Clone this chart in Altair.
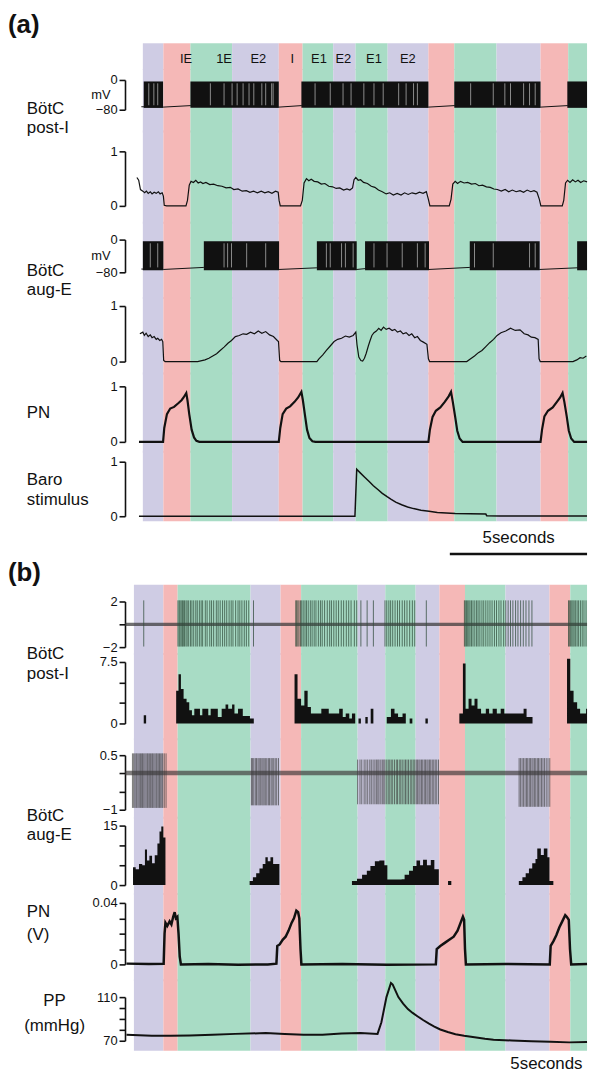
import altair as alt
import pandas as pd

FONT = "Liberation Sans"
INK = "#111111"
PHASE_ORDER = ["I", "E1", "E2"]
PHASE_COLORS = ["#f5b8b7", "#a8dcc5", "#cfcce4"]

# ======================= panel (a) : model =======================
A_TIME = [-0.6, 14.933]          # seconds shown
A_EDGES = [0.0, 0.69, 1.6, 3.0, 4.57, 5.37, 6.4, 7.15, 8.23, 9.6, 10.47, 11.89, 13.37, 14.3, 14.933]
A_PHASES = ["E2", "I", "E1", "E2", "I", "E1", "E2", "E1", "E2", "I", "E1", "E2", "I", "E1"]
A_PHASE_TEXT = ["IE", "1E", "E2", "I", "E1", "E2", "E1", "E2"]
A_PHASE_TEXT_T = [1.45, 2.73, 3.88, 5.02, 5.92, 6.74, 7.77, 8.91]

A_SPIKE_MV = (-75, -4)           # envelope of the spike bursts (mV)
A_PAUSE_MV = (-68, -9)

A_POSTI_BURSTS = [(0.03, 0.68), (1.6, 4.57), (5.33, 9.6), (10.47, 13.37), (14.27, 14.933)]
A_POSTI_PAUSES = [0.2, 0.37, 0.5, 2.27, 2.73, 3.0, 3.17, 3.37, 3.57, 3.73, 4.0, 4.13, 4.33, 4.38,
                  5.79, 6.3, 6.73, 7.0, 7.43, 7.77, 8.08, 8.6, 8.85, 9.1, 9.23,
                  11.02, 11.78, 12.17, 12.36, 12.8, 13.0, 13.19]
A_POSTI_REST = [(-0.05, -72), (0.68, -73), (1.6, -69), (4.57, -73), (5.33, -69), (9.6, -73),
                (10.47, -69), (13.37, -73), (14.27, -69), (14.933, -72)]

A_POSTI_NORM = [(-0.2, 0.52), (-0.14, 0.47), (-0.08, 0.3), (0.0, 0.27), (0.06, 0.24), (0.12, 0.27),
                (0.18, 0.23), (0.25, 0.26), (0.31, 0.22), (0.38, 0.25), (0.45, 0.23), (0.52, 0.26),
                (0.58, 0.22), (0.65, 0.24), (0.69, 0.18), (0.72, 0.01), (0.8, 0.0), (1.45, 0.0),
                (1.5, 0.1), (1.56, 0.38), (1.62, 0.45), (1.7, 0.43), (1.78, 0.47), (1.86, 0.42),
                (1.94, 0.44), (2.02, 0.41), (2.12, 0.43), (2.25, 0.39), (2.38, 0.4), (2.52, 0.37),
                (2.66, 0.36), (2.8, 0.33), (2.94, 0.34), (3.06, 0.3), (3.2, 0.31), (3.34, 0.27),
                (3.48, 0.28), (3.6, 0.25), (3.72, 0.27), (3.85, 0.24), (3.98, 0.27), (4.1, 0.24),
                (4.22, 0.26), (4.34, 0.23), (4.46, 0.27), (4.55, 0.25), (4.58, 0.1), (4.62, 0.0),
                (5.3, 0.0), (5.36, 0.1), (5.42, 0.42), (5.5, 0.5), (5.58, 0.46), (5.66, 0.49),
                (5.76, 0.45), (5.88, 0.44), (6.0, 0.4), (6.12, 0.41), (6.25, 0.36), (6.38, 0.35),
                (6.5, 0.32), (6.62, 0.33), (6.75, 0.29), (6.86, 0.31), (6.96, 0.29), (7.05, 0.33),
                (7.1, 0.48), (7.16, 0.52), (7.24, 0.47), (7.32, 0.48), (7.42, 0.43), (7.55, 0.41),
                (7.68, 0.36), (7.8, 0.34), (7.92, 0.29), (8.05, 0.26), (8.18, 0.22), (8.3, 0.24),
                (8.42, 0.2), (8.55, 0.23), (8.68, 0.2), (8.8, 0.24), (8.92, 0.21), (9.05, 0.24),
                (9.18, 0.22), (9.3, 0.25), (9.42, 0.23), (9.53, 0.26), (9.6, 0.12), (9.65, 0.0),
                (10.3, 0.0), (10.36, 0.12), (10.42, 0.4), (10.5, 0.45), (10.58, 0.41), (10.68, 0.45),
                (10.8, 0.42), (10.92, 0.43), (11.05, 0.4), (11.18, 0.41), (11.3, 0.37), (11.42, 0.38),
                (11.55, 0.35), (11.68, 0.34), (11.8, 0.31), (11.92, 0.3), (12.05, 0.27), (12.18, 0.3),
                (12.3, 0.26), (12.42, 0.29), (12.55, 0.26), (12.68, 0.28), (12.8, 0.25), (12.92, 0.29),
                (13.04, 0.26), (13.15, 0.28), (13.25, 0.25), (13.33, 0.12), (13.38, 0.0), (14.1, 0.0),
                (14.15, 0.1), (14.21, 0.42), (14.28, 0.47), (14.36, 0.43), (14.45, 0.48), (14.54, 0.44),
                (14.63, 0.47), (14.72, 0.43), (14.82, 0.46), (14.933, 0.44)]

A_AUGE_BURSTS = [(0.0, 0.69), (2.05, 4.58), (5.85, 7.19), (7.47, 9.62), (10.99, 13.34), (14.6, 14.933)]
A_AUGE_PAUSES = [0.25, 0.5, 2.73, 2.85, 2.98, 3.49, 4.13, 6.17, 6.3, 6.68, 6.81, 7.07,
                 7.77, 8.21, 8.72, 9.23, 9.49, 11.15, 11.78, 13.0, 13.19]
A_AUGE_REST = [(-0.05, -72), (0.69, -73), (2.05, -68), (4.58, -73), (5.85, -69), (7.19, -73),
               (7.47, -71), (9.62, -73), (10.99, -68), (13.34, -73), (14.6, -69), (14.933, -72)]

A_AUGE_NORM = [(-0.1, 0.5), (0.0, 0.53), (0.05, 0.47), (0.11, 0.51), (0.18, 0.45), (0.25, 0.48),
               (0.31, 0.43), (0.38, 0.45), (0.45, 0.4), (0.5, 0.42), (0.57, 0.38), (0.63, 0.4),
               (0.67, 0.36), (0.7, 0.02), (0.75, 0.0), (1.84, 0.0), (2.09, 0.03), (2.22, 0.06),
               (2.35, 0.1), (2.48, 0.14), (2.6, 0.2), (2.73, 0.26), (2.86, 0.33), (2.98, 0.38),
               (3.11, 0.45), (3.24, 0.47), (3.37, 0.5), (3.49, 0.49), (3.62, 0.53), (3.75, 0.5),
               (3.88, 0.55), (4.0, 0.51), (4.13, 0.54), (4.26, 0.48), (4.39, 0.45), (4.52, 0.38),
               (4.56, 0.36), (4.6, 0.02), (4.64, 0.0), (5.85, 0.0), (5.92, 0.05), (6.05, 0.12),
               (6.17, 0.2), (6.3, 0.28), (6.43, 0.36), (6.55, 0.4), (6.68, 0.42), (6.81, 0.46),
               (6.94, 0.44), (7.07, 0.47), (7.16, 0.53), (7.2, 0.3), (7.26, 0.08), (7.33, 0.02),
               (7.39, 0.01), (7.45, 0.06), (7.51, 0.15), (7.58, 0.28), (7.64, 0.38), (7.7, 0.47),
               (7.77, 0.52), (7.85, 0.55), (7.93, 0.6), (8.01, 0.56), (8.09, 0.62), (8.18, 0.58),
               (8.28, 0.6), (8.38, 0.56), (8.47, 0.58), (8.56, 0.53), (8.66, 0.55), (8.75, 0.5),
               (8.85, 0.52), (8.95, 0.47), (9.04, 0.5), (9.14, 0.43), (9.23, 0.45), (9.33, 0.38),
               (9.43, 0.35), (9.55, 0.31), (9.6, 0.05), (9.64, 0.0), (10.89, 0.0), (11.02, 0.05),
               (11.15, 0.1), (11.28, 0.16), (11.4, 0.2), (11.53, 0.27), (11.66, 0.34), (11.79, 0.4),
               (11.91, 0.47), (12.04, 0.52), (12.2, 0.55), (12.36, 0.6), (12.52, 0.56), (12.68, 0.57),
               (12.82, 0.5), (12.95, 0.48), (13.06, 0.44), (13.18, 0.43), (13.29, 0.4), (13.32, 0.05),
               (13.36, 0.0), (14.46, 0.0), (14.59, 0.03), (14.7, 0.07), (14.8, 0.06), (14.91, 0.1)]

A_PN = [(-0.13, 0.0), (0.68, 0.0), (0.72, 0.25), (0.81, 0.5), (0.92, 0.6), (1.05, 0.63), (1.2, 0.7),
        (1.3, 0.75), (1.37, 0.8), (1.46, 0.88), (1.5, 0.75), (1.56, 0.5), (1.64, 0.22), (1.72, 0.08),
        (1.8, 0.02), (1.9, 0.0), (4.57, 0.0), (4.62, 0.25), (4.7, 0.5), (4.82, 0.6), (4.95, 0.64),
        (5.1, 0.72), (5.22, 0.8), (5.33, 0.9), (5.38, 0.75), (5.45, 0.48), (5.52, 0.22), (5.6, 0.07),
        (5.7, 0.01), (5.8, 0.0), (9.6, 0.0), (9.65, 0.22), (9.74, 0.45), (9.85, 0.56), (10.0, 0.62),
        (10.15, 0.72), (10.28, 0.82), (10.36, 0.9), (10.42, 0.72), (10.5, 0.45), (10.57, 0.2),
        (10.65, 0.06), (10.75, 0.0), (13.37, 0.0), (13.42, 0.22), (13.5, 0.46), (13.62, 0.56),
        (13.78, 0.62), (13.92, 0.72), (14.03, 0.8), (14.11, 0.88), (14.17, 0.72), (14.25, 0.46),
        (14.32, 0.2), (14.4, 0.06), (14.5, 0.0), (14.933, 0.0)]

A_BARO = [(-0.13, 0.0), (7.13, 0.0), (7.19, 0.86), (7.3, 0.8), (7.45, 0.72), (7.6, 0.64), (7.75, 0.56),
          (7.9, 0.49), (8.05, 0.42), (8.21, 0.36), (8.35, 0.31), (8.5, 0.26), (8.7, 0.21), (8.9, 0.17),
          (9.1, 0.14), (9.35, 0.11), (9.62, 0.09), (9.9, 0.07), (10.2, 0.06), (10.5, 0.05),
          (11.0, 0.045), (11.53, 0.04), (11.56, 0.01), (12.0, 0.005), (13.0, 0.005), (14.933, 0.005)]

A_SCALEBAR = [(10.32, 15.32)]

# ======================= panel (b) : recording =======================
B_TIME = [-0.3, 15.233]
B_EDGES = [0.0, 0.99, 1.47, 3.92, 4.93, 5.62, 7.52, 8.45, 9.47, 10.27, 11.13, 12.49, 13.97, 14.67, 15.233]
B_PHASES = ["E2", "I", "E1", "E2", "I", "E1", "E2", "E1", "E2", "I", "E1", "E2", "I", "E1"]

B_POSTI_NOISE = (-0.14, 0.14)
B_POSTI_SPIKE_V = (-1.95, 2.1)
B_POSTI_SPIKES = [0.33,
                  1.48, 1.52, 1.55, 1.59, 1.63, 1.66, 1.7, 1.75, 1.79, 1.84, 1.9, 1.95, 2.01, 2.08,
                  2.13, 2.2, 2.26, 2.31, 2.4, 2.46, 2.55, 2.61, 2.68, 2.77, 2.83, 2.9, 2.98, 3.05,
                  3.12, 3.2, 3.27, 3.33, 3.42, 3.5, 3.56, 3.63, 3.71, 3.78, 3.86,
                  4.02,
                  5.44, 5.47, 5.51, 5.55, 5.6, 5.64, 5.69, 5.75, 5.8, 5.86, 5.93, 5.99, 6.06, 6.12,
                  6.2, 6.27, 6.33, 6.41, 6.5, 6.58, 6.64, 6.72, 6.8, 6.88, 6.97, 7.05, 7.14, 7.22,
                  7.3, 7.41, 7.49, 7.63, 7.84, 8.05,
                  8.44, 8.5, 8.57, 8.63, 8.7, 8.78, 8.86, 8.93, 9.02, 9.1, 9.18, 9.27, 9.36, 9.44,
                  9.83,
                  11.11, 11.14, 11.18, 11.22, 11.26, 11.3, 11.35, 11.4, 11.46, 11.52, 11.57, 11.63,
                  11.7, 11.76, 11.83, 11.9, 11.97, 12.04, 12.12, 12.19, 12.27, 12.34, 12.43, 12.5,
                  12.58, 12.66, 12.74, 12.83, 12.91, 13.0, 13.09, 13.18, 13.28, 13.38,
                  14.61, 14.64, 14.68, 14.72, 14.76, 14.8, 14.85, 14.9, 14.95, 15.01, 15.07, 15.13, 15.2]

B_POSTI_HIST = [(0.33, 1.0), (0.41, 0.0),
                (1.42, 4.0), (1.5, 6.0), (1.58, 4.2), (1.67, 3.0), (1.77, 2.6), (1.86, 1.6), (1.95, 1.0),
                (2.03, 1.8), (2.22, 1.0), (2.3, 1.8), (2.5, 1.0), (2.58, 1.8), (2.82, 0.8), (2.95, 1.8),
                (3.08, 2.3), (3.17, 1.8), (3.3, 2.3), (3.38, 1.2), (3.5, 1.8), (3.66, 0.9), (3.9, 0.6),
                (4.03, 0.0),
                (5.4, 6.0), (5.5, 3.0), (5.62, 2.2), (5.73, 4.0), (5.84, 2.0), (5.95, 1.2), (6.3, 1.8),
                (6.55, 1.2), (6.9, 1.8), (7.02, 0.8), (7.12, 1.2), (7.24, 0.6), (7.33, 1.2), (7.44, 0.0),
                (7.55, 0.6), (7.63, 0.0), (7.78, 0.8), (7.86, 0.0), (7.96, 1.8), (8.05, 0.0),
                (8.5, 0.8), (8.64, 1.8), (8.76, 1.2), (8.88, 0.8), (9.03, 1.2), (9.14, 0.0),
                (9.27, 0.6), (9.36, 0.0), (9.8, 0.6), (9.88, 0.0),
                (10.94, 1.2), (11.06, 7.3), (11.15, 1.8), (11.25, 3.0), (11.35, 2.2), (11.45, 3.0),
                (11.55, 1.8), (11.67, 1.2), (11.83, 1.8), (11.94, 1.2), (12.06, 1.8), (12.2, 1.2),
                (12.33, 1.8), (12.45, 1.2), (13.1, 1.8), (13.2, 0.8), (13.4, 0.0),
                (14.56, 7.9), (14.67, 4.0), (14.78, 2.6), (14.9, 1.8), (15.0, 1.2), (15.2, 1.8),
                (15.233, 1.8)]

B_AUGE_NOISE = (-0.05, 0.07)
B_AUGE_SPIKE_TOP = [0.55, 0.42, 0.38, 0.42]
B_AUGE_SPIKE_BOTTOM = [-0.95, -0.88, -0.85, -0.92]
B_AUGE_BURSTS = [
    [-0.05, -0.01, 0.03, 0.07, 0.1, 0.14, 0.18, 0.22, 0.26, 0.29, 0.33, 0.37, 0.41, 0.45, 0.48,
     0.52, 0.56, 0.6, 0.63, 0.67, 0.71, 0.75, 0.78, 0.82, 0.86, 0.9, 0.94, 0.97, 1.02, 1.08],
    [3.95, 3.99, 4.03, 4.08, 4.12, 4.17, 4.21, 4.25, 4.3, 4.34, 4.38, 4.43, 4.47, 4.52, 4.56,
     4.61, 4.65, 4.7, 4.75, 4.8, 4.86],
    [7.52, 7.6, 7.66, 7.74, 7.8, 7.86, 7.93, 7.98, 8.04, 8.1, 8.15, 8.2, 8.24, 8.3, 8.35, 8.4,
     8.44, 8.5, 8.55, 8.6, 8.65, 8.7, 8.76, 8.82, 8.86, 8.92, 8.97, 9.02, 9.08, 9.13, 9.18, 9.23,
     9.29, 9.34, 9.39, 9.44, 9.49, 9.53, 9.58, 9.62, 9.67, 9.71, 9.76, 9.8, 9.85, 9.89, 9.94,
     9.98, 10.03, 10.08, 10.13, 10.18, 10.24],
    [12.95, 13.0, 13.05, 13.1, 13.15, 13.2, 13.24, 13.29, 13.33, 13.38, 13.42, 13.47, 13.51,
     13.56, 13.6, 13.65, 13.7, 13.75, 13.8, 13.86, 13.92, 13.98],
]

B_AUGE_HIST = [(-0.03, 4.5), (0.06, 4.0), (0.17, 5.3), (0.28, 5.0), (0.37, 9.0), (0.44, 6.2),
               (0.52, 7.4), (0.61, 5.5), (0.7, 7.5), (0.79, 10.5), (0.86, 13.5), (0.92, 14.8),
               (0.99, 12.0), (1.06, 0.0),
               (3.89, 1.0), (4.0, 2.0), (4.11, 3.0), (4.22, 4.2), (4.33, 5.3), (4.42, 7.0), (4.5, 6.0),
               (4.59, 7.0), (4.68, 5.3), (4.89, 0.0),
               (7.33, 1.0), (7.5, 1.6), (7.67, 2.6), (7.83, 3.6), (7.95, 4.8), (8.1, 6.0), (8.25, 6.2),
               (8.42, 5.0), (8.52, 1.4), (9.0, 1.5), (9.1, 2.6), (9.25, 3.6), (9.38, 4.8), (9.5, 6.2),
               (9.62, 5.0), (9.72, 6.4), (9.85, 5.0), (9.98, 6.3), (10.1, 4.0), (10.25, 0.0),
               (10.56, 1.0), (10.67, 0.0),
               (12.94, 1.0), (13.06, 2.0), (13.17, 3.0), (13.28, 4.2), (13.39, 5.5), (13.5, 6.6),
               (13.56, 9.2), (13.68, 7.6), (13.78, 9.2), (13.9, 7.0), (13.97, 1.0), (14.1, 0.0)]

B_PN = [(-0.25, 0.0005), (0.5, 0.0002), (1.0, 0.0004), (1.03, 0.02), (1.06, 0.027), (1.12, 0.025),
        (1.2, 0.028), (1.26, 0.026), (1.32, 0.031), (1.37, 0.034), (1.41, 0.03), (1.46, 0.031),
        (1.5, 0.02), (1.54, 0.005), (1.58, 0.0), (2.5, 0.0003), (3.5, -0.0002), (4.5, 0.0),
        (4.79, 0.0005), (4.82, 0.012), (4.9, 0.013), (5.0, 0.016), (5.1, 0.018), (5.2, 0.022),
        (5.3, 0.027), (5.38, 0.03), (5.46, 0.035), (5.52, 0.034), (5.56, 0.03), (5.6, 0.01),
        (5.63, 0.0), (7.0, 0.0002), (8.5, -0.0003), (10.15, 0.0), (10.18, 0.01), (10.3, 0.012),
        (10.45, 0.014), (10.6, 0.016), (10.75, 0.018), (10.88, 0.022), (10.98, 0.027),
        (11.06, 0.031), (11.1, 0.029), (11.13, 0.01), (11.16, 0.0), (12.5, 0.0003), (13.98, 0.0),
        (14.01, 0.012), (14.1, 0.015), (14.2, 0.019), (14.3, 0.024), (14.4, 0.028), (14.5, 0.032),
        (14.55, 0.031), (14.62, 0.029), (14.66, 0.01), (14.7, 0.0), (15.233, 0.0002)]

B_PP = [(-0.25, 75.5), (0.6, 74.5), (1.24, 74.5), (1.88, 74.8), (2.64, 75.6), (3.41, 76.3),
        (4.43, 77.0), (5.07, 76.2), (5.7, 75.4), (6.34, 75.6), (6.98, 76.6), (7.62, 77.0),
        (8.19, 76.3), (8.32, 87.0), (8.49, 110.0), (8.64, 123.0), (8.7, 121.5), (8.89, 110.0),
        (9.05, 104.0), (9.21, 99.0), (9.37, 95.5), (9.53, 92.5), (9.72, 89.0), (9.92, 85.7),
        (10.1, 83.0), (10.3, 80.3), (10.55, 78.0), (10.81, 76.0), (11.1, 74.6), (11.45, 73.2),
        (11.8, 71.8), (12.09, 71.0), (12.7, 70.2), (13.36, 69.6), (14.0, 69.0), (14.63, 68.5),
        (15.233, 68.8)]

# ======================= helpers =======================
W = 466


def xq(field, dom):
    return alt.X(f"{field}:Q", scale=alt.Scale(domain=dom, nice=False, zero=False), axis=None)


def yq(field, dom, rng, ax):
    return alt.Y(f"{field}:Q", scale=alt.Scale(domain=dom, range=rng, nice=False, zero=False), axis=ax)


def make_axis(ticks, shown, title=None, title_y=0):
    expr = "''"
    for v, s in shown:
        expr = f"datum.value == {v} ? '{s}' : ({expr})"
    kw = dict(values=ticks, labelExpr=expr, grid=False, domainColor=INK, domainWidth=1.6,
              tickColor=INK, tickWidth=1.6, tickSize=6, labelFont=FONT, labelFontSize=13,
              labelColor=INK, labelPadding=2, labelOverlap=False)
    if title:
        kw.update(title=title, titleAngle=0, titleAlign="right", titleBaseline="middle",
                  titleX=-15, titleY=title_y, titleFont=FONT, titleFontSize=13,
                  titleFontWeight="normal", titleColor=INK)
    else:
        kw["title"] = None
    return alt.Axis(**kw)


def bands(edges, phases, dom, h):
    df = pd.DataFrame({"t0": edges[:-1], "t1": edges[1:], "phase": phases})
    # the band rectangles overlap the neighbouring rows by one pixel to avoid seams
    return alt.Chart(df).mark_rect().encode(
        x=xq("t0", dom), x2="t1:Q", y=alt.value(-1), y2=alt.value(h + 1),
        color=alt.Color("phase:N", scale=alt.Scale(domain=PHASE_ORDER, range=PHASE_COLORS),
                        legend=None))


def label(text, x, y, size=17, align="left", weight="normal"):
    return alt.Chart(pd.DataFrame({"s": [text]})).mark_text(
        align=align, baseline="middle", font=FONT, fontSize=size, fontWeight=weight, color=INK
    ).encode(text="s:N", x=alt.value(x), y=alt.value(y))


def line(data, dom_t, dom_v, rng, ax, width=1.2):
    df = pd.DataFrame(data, columns=["t", "v"])
    return alt.Chart(df).mark_line(color=INK, strokeWidth=width).encode(
        x=xq("t", dom_t), y=yq("v", dom_v, rng, ax))


def steps(data, dom_t, dom_v, rng, ax):
    df = pd.DataFrame(data, columns=["t", "v"])
    return alt.Chart(df).mark_area(interpolate="step-after", color=INK).encode(
        x=xq("t", dom_t), y=yq("v", dom_v, rng, ax), y2=alt.datum(0))


def burst_rects(bursts, env, dom_t, dom_v, rng, ax):
    df = pd.DataFrame(bursts, columns=["t0", "t1"])
    df["lo"], df["hi"] = env
    return alt.Chart(df).mark_rect(color=INK).encode(
        x=xq("t0", dom_t), x2="t1:Q", y=yq("lo", dom_v, rng, ax), y2="hi:Q")


def spikes(times, lo, hi, dom_t, dom_v, rng, ax, color, width=1.0, opacity=0.8):
    df = pd.DataFrame({"t": times, "lo": lo, "hi": hi})
    return alt.Chart(df).mark_rule(color=color, strokeWidth=width, opacity=opacity).encode(
        x=xq("t", dom_t), y=yq("lo", dom_v, rng, ax), y2="hi:Q")


def noise_band(env, dom_t, dom_v, rng, ax, color, opacity):
    df = pd.DataFrame({"t0": [dom_t[0]], "t1": [dom_t[1]], "lo": [env[0]], "hi": [env[1]]})
    return alt.Chart(df).mark_rect(color=color, opacity=opacity).encode(
        x=xq("t0", dom_t), x2="t1:Q", y=yq("lo", dom_v, rng, ax), y2="hi:Q")


def row(layers, h):
    return alt.layer(*layers).properties(width=W, height=h)


LX = -99
rows = []

# ---------- (a) ----------
rows.append(row([label("(a)", -118, 13, size=26, weight="bold")], 32))

h = 26
ph = pd.DataFrame({"t": A_PHASE_TEXT_T, "s": A_PHASE_TEXT})
rows.append(row([
    bands(A_EDGES, A_PHASES, A_TIME, h - 1),
    alt.Chart(ph).mark_text(font=FONT, fontSize=13, color=INK, baseline="middle").encode(
        x=xq("t", A_TIME), y=alt.value(15), text="s:N"),
], h))

# BötC post-I membrane potential
h = 62
dv, rg = [-80, 0], [40, 10]
ax = make_axis([-80, 0], [(0, "0"), (-80, "\u221280")], "mV", 25)
rows.append(row([
    bands(A_EDGES, A_PHASES, A_TIME, h),
    line(A_POSTI_REST, A_TIME, dv, rg, ax, 1.0),
    burst_rects(A_POSTI_BURSTS, A_SPIKE_MV, A_TIME, dv, rg, ax),
    spikes(A_POSTI_PAUSES, A_PAUSE_MV[0], A_PAUSE_MV[1], A_TIME, dv, rg, ax, "#a9a9a9", 0.9, 0.9),
    label("BötC", LX, 39), label("post-I", LX, 58),
], h))

# BötC post-I normalised
h = 92
dv, rg = [0, 1], [75, 20]
ax = make_axis([0, 1], [(0, "0"), (1, "1")])
rows.append(row([bands(A_EDGES, A_PHASES, A_TIME, h),
                 line(A_POSTI_NORM, A_TIME, dv, rg, ax, 1.2)], h))

# BötC aug-E membrane potential
h = 76
dv, rg = [-80, 0], [50, 17]
ax = make_axis([-80, 0], [(0, "0"), (-80, "\u221280")], "mV", 33)
rows.append(row([
    bands(A_EDGES, A_PHASES, A_TIME, h),
    line(A_AUGE_REST, A_TIME, dv, rg, ax, 1.0),
    burst_rects(A_AUGE_BURSTS, A_SPIKE_MV, A_TIME, dv, rg, ax),
    spikes(A_AUGE_PAUSES, A_PAUSE_MV[0], A_PAUSE_MV[1], A_TIME, dv, rg, ax, "#a9a9a9", 0.9, 0.9),
    label("BötC", LX, 49), label("aug-E", LX, 68),
], h))

# BötC aug-E normalised
h = 76
dv, rg = [0, 1], [64, 8]
ax = make_axis([0, 1], [(0, "0"), (1, "1")])
rows.append(row([bands(A_EDGES, A_PHASES, A_TIME, h),
                 line(A_AUGE_NORM, A_TIME, dv, rg, ax, 1.2)], h))

# PN
h = 79
dv, rg = [0, 1], [69, 13]
ax = make_axis([0, 1], [(0, "0"), (1, "1")])
rows.append(row([bands(A_EDGES, A_PHASES, A_TIME, h), line(A_PN, A_TIME, dv, rg, ax, 2.2),
                 label("PN", LX, 40)], h))

# Baro stimulus
h = 70
dv, rg = [0, 1], [65, 10]
ax = make_axis([0, 1], [(0, "0"), (1, "1")])
rows.append(row([bands(A_EDGES, A_PHASES, A_TIME, h - 1), line(A_BARO, A_TIME, dv, rg, ax, 1.5),
                 label("Baro", LX, 29), label("stimulus", LX, 49)], h))

# scale bar
sb = pd.DataFrame(A_SCALEBAR, columns=["t0", "t1"])
rows.append(row([
    alt.Chart(sb).mark_rule(color=INK, strokeWidth=2.5, clip=True).encode(
        x=xq("t0", A_TIME), x2="t1:Q", y=alt.value(33)),
    label("5seconds", 397, 17, align="center"),
], 39))

# ---------- (b) ----------
rows.append(row([label("(b)", -118, 13, size=26, weight="bold")], 26))

# BötC post-I extracellular
h = 69
dv, rg = [-2, 2], [62, 16]
ax = make_axis([-2, 0, 2], [(2, "2"), (-2, "\u22122")])
rows.append(row([
    bands(B_EDGES, B_PHASES, B_TIME, h),
    noise_band(B_POSTI_NOISE, B_TIME, dv, rg, ax, "#333333", 0.7),
    spikes(B_POSTI_SPIKES, B_POSTI_SPIKE_V[0], B_POSTI_SPIKE_V[1], B_TIME, dv, rg, ax,
           "#2f4a3b", 1.0, 0.75),
    label("BötC", LX, 69),
], h))

# post-I histogram
h = 86
dv, rg = [0, 7.5], [70, 8]
ax = make_axis([0, 2.5, 5, 7.5], [(0, "0"), (7.5, "7.5")])
rows.append(row([bands(B_EDGES, B_PHASES, B_TIME, h), steps(B_POSTI_HIST, B_TIME, dv, rg, ax),
                 label("post-I", LX, 20)], h))

# BötC aug-E extracellular
h = 79
dv, rg = [-1, 0.5], [71, 16]
ax = make_axis([-1, -0.5, 0, 0.5], [(0.5, "0.5"), (-1, "\u22121")])
aug_layers = [bands(B_EDGES, B_PHASES, B_TIME, h),
              noise_band(B_AUGE_NOISE, B_TIME, dv, rg, ax, "#3a3535", 0.65)]
for i, burst in enumerate(B_AUGE_BURSTS):
    aug_layers.append(spikes(burst, B_AUGE_SPIKE_BOTTOM[i], B_AUGE_SPIKE_TOP[i], B_TIME, dv, rg,
                             ax, "#3c3c3c", 1.0, 0.7))
aug_layers.append(label("BötC", LX, 77))
rows.append(row(aug_layers, h))

# aug-E histogram
h = 77
dv, rg = [0, 15], [68, 8]
ax = make_axis([0, 5, 10, 15], [(0, "0"), (15, "15")])
rows.append(row([bands(B_EDGES, B_PHASES, B_TIME, h), steps(B_AUGE_HIST, B_TIME, dv, rg, ax),
                 label("aug-E", LX, 18)], h))

# PN (V)
h = 87
dv, rg = [0, 0.04], [71, 9]
ax = make_axis([0, 0.01, 0.02, 0.03, 0.04], [(0, "0"), (0.04, "0.04")])
rows.append(row([bands(B_EDGES, B_PHASES, B_TIME, h), line(B_PN, B_TIME, dv, rg, ax, 2.5),
                 label("PN", LX, 18), label("(V)", LX, 41)], h))

# PP (mmHg)
h = 71
dv, rg = [70, 110], [61, 17]
ax = make_axis([70, 80, 90, 100, 110], [(70, "70"), (110, "110")])
rows.append(row([bands(B_EDGES, B_PHASES, B_TIME, h - 1), line(B_PP, B_TIME, dv, rg, ax, 2.0),
                 label("PP", -71, 21, align="center"), label("(mmHg)", -71, 46, align="center")], h))

rows.append(row([label("5seconds", 425, 14, align="center")], 24))

chart = alt.vconcat(*rows, spacing=0, bounds="flush").properties(
    padding=0
).configure(font=FONT).configure_view(stroke=None, strokeWidth=0)

chart.save("out.html", embed_options={"renderer": "svg", "actions": False})
